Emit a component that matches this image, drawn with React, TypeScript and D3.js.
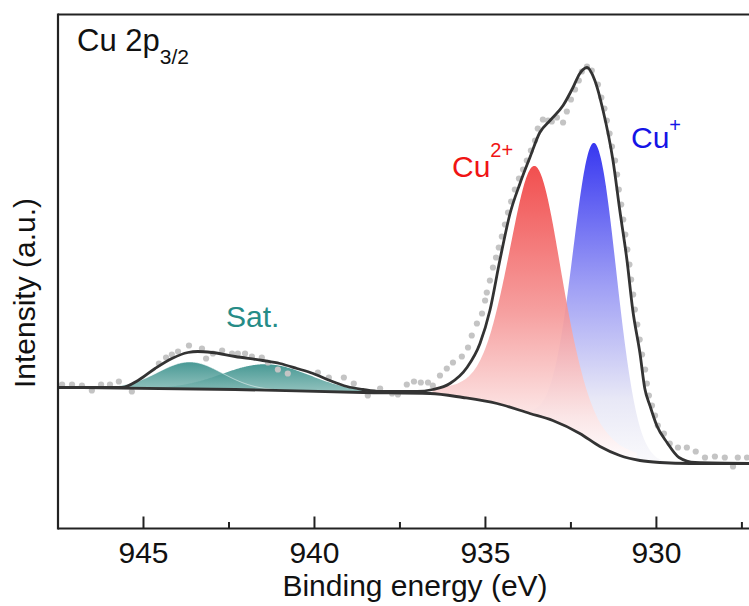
import React, { useEffect } from 'react';
import * as d3 from 'd3';

// ---------- data ----------
const xMajorTicks = [945, 940, 935, 930];
const xMinorTicks = [942.5, 937.5, 932.5, 927.5];

// raw XPS data (binding energy, intensity a.u.)
const rawE = [947.38, 947.09, 946.80, 946.51, 946.24, 945.98, 945.72, 945.34, 944.55, 944.34, 944.17, 943.99, 943.67, 943.29, 943.17, 942.97, 942.70, 942.41, 942.24, 942.03, 941.83, 941.54, 941.36, 941.07, 940.78, 939.90, 939.58, 939.14, 938.85, 938.44, 938.08, 937.73, 937.56, 937.30, 937.09, 936.89, 936.68, 936.54, 936.33, 936.13, 935.95, 935.69, 935.51, 935.40, 935.25, 935.10, 935.01, 934.96, 934.87, 934.78, 934.69, 934.61, 934.52, 934.43, 934.34, 934.25, 934.14, 934.02, 933.90, 933.79, 933.67, 933.55, 933.47, 933.32, 933.17, 933.06, 932.91, 932.73, 932.62, 932.50, 932.38, 932.27, 932.18, 932.03, 931.89, 931.71, 931.61, 931.52, 931.45, 931.37, 931.30, 931.21, 931.15, 931.10, 931.03, 930.97, 930.91, 930.85, 930.79, 930.74, 930.68, 930.63, 930.56, 930.49, 930.42, 930.33, 930.28, 930.22, 930.13, 930.04, 929.96, 929.78, 929.61, 929.37, 929.11, 928.85, 928.58, 928.29, 928.00, 927.76, 927.62, 927.35];
const rawI = [144, 144, 143, 138, 144, 144, 147, 137, 165, 171, 174, 177, 183, 180, 170, 175, 178, 175, 175, 175, 172, 171, 166, 159, 155, 156, 151, 151, 145, 133, 140, 135, 134, 144, 147, 146, 146, 143, 153, 160, 166, 172, 181, 193, 205, 215, 228, 236, 248, 261, 271, 281, 292, 304, 316, 327, 339, 350, 359, 368, 378, 388, 400, 409, 408, 407, 411, 406, 417, 429, 439, 448, 457, 462, 458, 444, 431, 420, 408, 395, 382, 368, 354, 339, 324, 309, 294, 279, 264, 249, 234, 219, 204, 189, 174, 159, 145, 133, 123, 113, 103, 95, 85, 81, 81, 77, 71, 72, 71, 62, 71, 71];

// fitted envelope
const envE = [947.5, 945.63, 945.16, 944.66, 944.17, 943.70, 943.41, 943.00, 942.32, 941.51, 941.01, 940.51, 940.04, 939.55, 939.05, 938.58, 938.08, 937.0, 936.54, 936.04, 935.54, 935.16, 934.87, 934.58, 934.28, 933.99, 933.70, 933.41, 933.11, 932.73, 932.44, 932.24, 932.03, 931.80, 931.56, 931.27, 931.07, 930.86, 930.69, 930.48, 930.34, 930.19, 929.99, 929.69, 929.34, 928.87, 927.0];
const envI = [141, 141, 148, 160, 170, 176, 177, 176, 172, 168, 165, 160, 155, 148, 142, 139, 137, 137, 139, 145, 161, 185, 218, 268, 315, 345, 371, 396, 408, 423, 441, 455, 461, 448, 418, 368, 318, 268, 218, 175, 140, 123, 103, 86, 71, 66, 65];

// Shirley background
const bgE = [947.5, 942.32, 938.58, 936.62, 935.66, 934.66, 933.70, 933.03, 932.24, 931.65, 931.07, 930.48, 929.90, 929.0, 927.0];
const bgI = [141, 139, 136, 135, 131, 125, 115, 108, 95, 82, 73, 68, 66, 65, 65];

// fitted components
const peakNames = ['Sat1', 'Sat2', 'Cu2+', 'Cu+'];
const peakCenters = [943.64, 941.4, 933.55, 931.80];
const peakHeights = [27, 26, 249, 300];
const peakFWHM = [2.2, 3.0, 1.85, 1.48];
const peakMix = [0, 0, 0.3, 0];
const peakSpan = [3.0, 3.5, 3.0, 3.0];

// ---------- layout ----------
const W = 749;
const H = 606;
const left = 58;
const top = 14.5;
const bottom = 528.5;
const rightPx = 759;
const FONT = "'Liberation Sans', Arial, sans-serif";

export default function App() {
  useEffect(() => {
    document.body.style.margin = '0';
  }, []);

  const x = d3.scaleLinear().domain([947.5, 927]).range([left, rightPx]);
  const y = d3.scaleLinear().domain([0, 514]).range([bottom, top]);
  const bg = d3.scaleLinear().domain(bgE).range(bgI);

  const line = d3
    .line<[number, number]>()
    .x((d) => x(d[0]))
    .y((d) => y(d[1]))
    .curve(d3.curveMonotoneX);

  const envPath = line(envE.map((e, i) => [e, envI[i]] as [number, number])) || '';
  const bgPath = line(bgE.map((e, i) => [e, bgI[i]] as [number, number])) || '';

  const pv = (k: number, e: number) => {
    const c = peakCenters[k];
    const w = peakFWHM[k];
    const m = peakMix[k];
    const t = ((e - c) * (e - c)) / (w * w);
    return peakHeights[k] * ((1 - m) * Math.exp(-4 * Math.LN2 * t) + m / (1 + 4 * t));
  };

  const area = d3
    .area<{ e: number; v: number }>()
    .x((d) => x(d.e))
    .y0((d) => y(bg(d.e)))
    .y1((d) => y(bg(d.e) + d.v))
    .curve(d3.curveLinear);

  const compPath = (k: number) => {
    const c = peakCenters[k];
    const s = peakSpan[k];
    const pts = d3.range(c + s, c - s, -0.02).map((e) => ({ e, v: pv(k, e) }));
    return area(pts) || '';
  };

  const fills = ['url(#gSat)', 'url(#gSat)', 'url(#gRed)', 'url(#gBlue)'];

  return (
    <svg
      width={W}
      height={H}
      style={{ position: 'absolute', left: 0, top: 0, background: '#fff' }}
      fontFamily={FONT}
    >
      <defs>
        <clipPath id="plotClip">
          <rect x={left} y={top} width={rightPx - left} height={bottom - top} />
        </clipPath>
        <linearGradient id="gSat" x1="0" y1="0" x2="0" y2="1">
          <stop offset="0%" stopColor="rgb(40,135,130)" />
          <stop offset="100%" stopColor="rgb(130,185,180)" />
        </linearGradient>
        <linearGradient id="gRed" x1="0" y1="0" x2="0" y2="1">
          <stop offset="0%" stopColor="rgb(240,60,60)" />
          <stop offset="50%" stopColor="rgb(245,150,150)" />
          <stop offset="85%" stopColor="rgb(252,228,228)" />
          <stop offset="100%" stopColor="rgb(255,252,252)" />
        </linearGradient>
        <linearGradient id="gBlue" x1="0" y1="0" x2="0" y2="1">
          <stop offset="0%" stopColor="rgb(55,55,240)" />
          <stop offset="45%" stopColor="rgb(160,160,245)" />
          <stop offset="80%" stopColor="rgb(232,232,246)" />
          <stop offset="100%" stopColor="rgb(250,250,252)" />
        </linearGradient>
      </defs>

      <g clipPath="url(#plotClip)">
        {/* satellites */}
        <path d={compPath(1)} fill={fills[1]} fillOpacity={0.85} />
        <path d={compPath(0)} fill={fills[0]} fillOpacity={0.85} stroke="#fff" strokeOpacity={0.7} strokeWidth={0.8} />
        {/* Cu+ then Cu2+ */}
        <path d={compPath(3)} fill={fills[3]} />
        <path d={compPath(2)} fill={fills[2]} fillOpacity={0.9} />
        {/* raw data */}
        {rawE.map((e, i) => (
          <circle key={i} cx={x(e)} cy={y(rawI[i])} r={3.1} fill="rgb(196,196,196)" />
        ))}
        <path d={bgPath} fill="none" stroke="#333" strokeWidth={2.8} />
        <path d={envPath} fill="none" stroke="#333" strokeWidth={2.8} />
      </g>

      {/* frame */}
      <line x1={left} y1={top} x2={W + 20} y2={top} stroke="#222" strokeWidth={2.2} />
      <line x1={left} y1={top - 1} x2={left} y2={bottom + 1} stroke="#222" strokeWidth={2.2} />
      <line x1={left} y1={bottom} x2={W + 20} y2={bottom} stroke="#222" strokeWidth={2.2} />

      {xMajorTicks.map((t) => (
        <g key={'M' + t}>
          <line x1={x(t)} x2={x(t)} y1={bottom} y2={bottom - 12} stroke="#222" strokeWidth={2} />
          <text x={x(t)} y={563} textAnchor="middle" fontSize={30} fill="#111">
            {t}
          </text>
        </g>
      ))}
      {xMinorTicks.map((t) => (
        <line key={'m' + t} x1={x(t)} x2={x(t)} y1={bottom} y2={bottom - 6.5} stroke="#222" strokeWidth={2} />
      ))}

      <text x={415} y={596} textAnchor="middle" fontSize={30} fill="#111">
        Binding energy (eV)
      </text>
      <text transform="translate(35,293) rotate(-90)" textAnchor="middle" fontSize={30} fill="#111">
        Intensity (a.u.)
      </text>

      <text x={77} y={51} fontSize={31} fill="#111">
        Cu 2p
        <tspan fontSize={21} dy={13}>
          3/2
        </tspan>
      </text>
      <text x={452} y={177} fontSize={30} fill="#f01414">
        Cu
        <tspan fontSize={20} dy={-20}>
          2+
        </tspan>
      </text>
      <text x={631} y={148} fontSize={30} fill="#1414e6">
        Cu
        <tspan fontSize={20} dy={-16}>
          +
        </tspan>
      </text>
      <text x={226} y={327} fontSize={30} fill="#268c87">
        Sat.
      </text>
    </svg>
  );
}
